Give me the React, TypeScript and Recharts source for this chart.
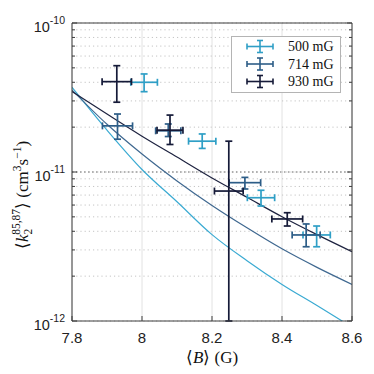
import React from "react";
import {
  ComposedChart,
  Line,
  Scatter,
  ErrorBar,
  XAxis,
  YAxis,
  CartesianGrid,
  ReferenceLine,
  Legend,
  Label,
} from "recharts";

// axis ticks
const xTicks = [7.8, 8.0, 8.2, 8.4, 8.6];
const yMajor = [1e-12, 1e-11, 1e-10];
const yMinor = [
  2e-12, 3e-12, 4e-12, 5e-12, 6e-12, 7e-12, 8e-12, 9e-12,
  2e-11, 3e-11, 4e-11, 5e-11, 6e-11, 7e-11, 8e-11, 9e-11,
];
const yTicks = [...yMajor, ...yMinor].sort((a, b) => a - b);

// model curves
const curveB = [7.8, 7.9, 8.0, 8.1, 8.2, 8.3, 8.4, 8.5, 8.6];
const curve500 = [3.7e-11, 1.91e-11, 1.04e-11, 6.31e-12, 3.8e-12, 2.54e-12, 1.76e-12, 1.27e-12, 9.1e-13];
const curve714 = [3.55e-11, 2.09e-11, 1.32e-11, 8.71e-12, 5.96e-12, 4.22e-12, 3.05e-12, 2.29e-12, 1.76e-12];
const curve930 = [3.47e-11, 2.45e-11, 1.74e-11, 1.26e-11, 9.12e-12, 6.76e-12, 5.01e-12, 3.8e-12, 2.92e-12];

// measurements: <B>, k, half-width in B, lower / upper end of k bar
const b500 = [8.006, 8.172, 8.34, 8.499];
const k500 = [4.0e-11, 1.61e-11, 6.72e-12, 3.78e-12];
const bErr500 = [0.038, 0.039, 0.039, 0.039];
const kLo500 = [3.46e-11, 1.44e-11, 5.91e-12, 3.15e-12];
const kHi500 = [4.55e-11, 1.8e-11, 7.54e-12, 4.34e-12];

const b714 = [7.93, 8.075, 8.294, 8.469];
const k714 = [2.04e-11, 1.89e-11, 8.48e-12, 3.78e-12];
const bErr714 = [0.043, 0.036, 0.045, 0.04];
const kLo714 = [1.66e-11, 1.73e-11, 7.69e-12, 3.15e-12];
const kHi714 = [2.45e-11, 2.1e-11, 9.2e-12, 4.48e-12];

const b930 = [7.928, 8.08, 8.248, 8.415];
const k930 = [4.04e-11, 1.91e-11, 7.45e-12, 4.84e-12];
const bErr930 = [0.042, 0.037, 0.041, 0.044];
const kLo930 = [2.94e-11, 1.53e-11, 1e-12, 4.34e-12];
const kHi930 = [5.17e-11, 2.41e-11, 1.61e-11, 5.33e-12];

const C500 = "#2f9fc6";
const C714 = "#2d5d87";
const C930 = "#151a38";
const AXIS = "#3c3c3c";
const SANS = "'Liberation Sans', Arial, sans-serif";
const SERIF = "'Liberation Serif', 'Times New Roman', serif";

const curve = (k: number[]) => curveB.map((x, i) => ({ x, y: k[i] }));
const points = (b: number[], k: number[], eb: number[], lo: number[], hi: number[]) =>
  b.map((x, i) => ({ x, y: k[i], ex: eb[i], ey: [k[i] - lo[i], hi[i] - k[i]] }));

const series = [
  { name: "500 mG", color: C500, data: points(b500, k500, bErr500, kLo500, kHi500) },
  { name: "714 mG", color: C714, data: points(b714, k714, bErr714, kLo714, kHi714) },
  { name: "930 mG", color: C930, data: points(b930, k930, bErr930, kLo930, kHi930) },
];

const isMajor = (v: number) => yMajor.some((m) => Math.abs(m - v) / m < 1e-6);

const LeftTick = (p: any) => {
  const v = p.payload.value;
  const major = isMajor(v);
  return (
    <g>
      <line x1={p.x} x2={p.x + (major ? 5 : 3)} y1={p.y} y2={p.y} stroke={AXIS} />
      {major && (
        <text x={p.x - 7} y={p.y + 9} textAnchor="end" fontFamily={SANS} fontSize={14.5} fill="#222">
          10
          <tspan dy={-8} fontSize={10.5}>{Math.round(Math.log10(v))}</tspan>
        </text>
      )}
    </g>
  );
};

const RightTick = (p: any) => {
  const major = isMajor(p.payload.value);
  return <line x1={p.x} x2={p.x - (major ? 5 : 3)} y1={p.y} y2={p.y} stroke={AXIS} />;
};

const BottomTick = (p: any) => (
  <g>
    <line x1={p.x} x2={p.x} y1={p.y} y2={p.y - 5} stroke={AXIS} />
    <text x={p.x} y={p.y + 22} textAnchor="middle" fontFamily={SANS} fontSize={15} fill="#222">
      {String(p.payload.value)}
    </text>
  </g>
);

const TopTick = (p: any) => <line x1={p.x} x2={p.x} y1={p.y} y2={p.y + 5} stroke={AXIS} />;

const LegendBox = () => (
  <svg width={110} height={57}>
    <rect x={0.5} y={0.5} width={109} height={56} fill="#fff" stroke="#b4b4b4" />
    {series.map((s, i) => {
      const cy = 10.5 + i * 17.5;
      return (
        <g key={s.name} stroke={s.color} strokeWidth={1.6}>
          <line x1={16} x2={42} y1={cy} y2={cy} />
          <line x1={16} x2={16} y1={cy - 3} y2={cy + 3} />
          <line x1={42} x2={42} y1={cy - 3} y2={cy + 3} />
          <line x1={29} x2={29} y1={cy - 6} y2={cy + 6} />
          <line x1={26} x2={32} y1={cy - 6} y2={cy - 6} />
          <line x1={26} x2={32} y1={cy + 6} y2={cy + 6} />
          <text x={57} y={cy + 4.5} stroke="none" fill="#111" fontFamily={SERIF} fontSize={14}>
            {s.name}
          </text>
        </g>
      );
    })}
  </svg>
);

export default function App() {
  return (
    <ComposedChart width={366} height={366} margin={{ top: 14, right: 21, bottom: 13, left: 0 }}>
      <CartesianGrid horizontal={false} stroke="#e2e2e2" />
      <CartesianGrid vertical={false} stroke="#c4c4c4" strokeDasharray="1.2 3" />
      <ReferenceLine y={1e-11} stroke="#9a9a9a" strokeWidth={1.3} strokeDasharray="1.5 2.5" />
      <XAxis
        dataKey="x"
        type="number"
        domain={[7.8, 8.6]}
        ticks={xTicks}
        allowDataOverflow
        height={40}
        stroke={AXIS}
        tickLine={false}
        tickSize={0}
        tickMargin={0}
        tick={BottomTick}
      >
        <Label
          content={(p: any) => (
            <text
              x={p.viewBox.x + p.viewBox.width / 2}
              y={p.viewBox.y + 42}
              textAnchor="middle"
              fontFamily={SERIF}
              fontSize={17}
              fill="#111"
            >
              ⟨<tspan fontStyle="italic">B</tspan>⟩ (G)
            </text>
          )}
        />
      </XAxis>
      <XAxis
        xAxisId="top"
        orientation="top"
        type="number"
        domain={[7.8, 8.6]}
        ticks={xTicks}
        allowDataOverflow
        height={1}
        stroke={AXIS}
        tickLine={false}
        tickSize={0}
        tickMargin={0}
        tick={TopTick}
      />
      <YAxis
        type="number"
        scale="log"
        domain={[1e-12, 1e-10]}
        ticks={yTicks}
        allowDataOverflow
        width={64}
        stroke={AXIS}
        tickLine={false}
        tickSize={0}
        tickMargin={0}
        tick={LeftTick}
        interval={0}
      >
        <Label
          content={() => {
            const cx = 20;
            const cy = 187;
            return (
              <text
                x={cx}
                y={cy}
                transform={`rotate(-90 ${cx} ${cy})`}
                textAnchor="middle"
                fontFamily={SERIF}
                fontSize={17}
                fill="#111"
              >
                ⟨<tspan fontStyle="italic">k</tspan>
                <tspan fontSize={11.5} dy={4}>2</tspan>
                <tspan fontSize={11.5} dx={-6} dy={-12}>85,87</tspan>
                <tspan dy={8}>⟩ (cm</tspan>
                <tspan fontSize={11.5} dy={-7}>3</tspan>
                <tspan dy={7}>s</tspan>
                <tspan fontSize={11.5} dy={-7}>−1</tspan>
                <tspan dy={7}>)</tspan>
              </text>
            );
          }}
        />
      </YAxis>
      <YAxis
        yAxisId="right"
        orientation="right"
        type="number"
        scale="log"
        domain={[1e-12, 1e-10]}
        ticks={yTicks}
        allowDataOverflow
        width={1}
        stroke={AXIS}
        tickLine={false}
        tickSize={0}
        tickMargin={0}
        tick={RightTick}
        interval={0}
      />
      <Line data={curve(curve500)} dataKey="y" type="monotone" dot={false} stroke="#3aaad2" strokeWidth={1.2} isAnimationActive={false} />
      <Line data={curve(curve714)} dataKey="y" type="monotone" dot={false} stroke="#3f6890" strokeWidth={1.2} isAnimationActive={false} />
      <Line data={curve(curve930)} dataKey="y" type="monotone" dot={false} stroke="#1e2340" strokeWidth={1.2} isAnimationActive={false} />
      {series.map((s) => (
        <Scatter key={s.name} name={s.name} data={s.data} dataKey="y" shape={() => <g />} isAnimationActive={false}>
          <ErrorBar dataKey="ex" direction="x" width={3.5} stroke={s.color} strokeWidth={1.7} isAnimationActive={false} />
          <ErrorBar dataKey="ey" direction="y" width={3.5} stroke={s.color} strokeWidth={1.7} isAnimationActive={false} />
        </Scatter>
      ))}
      <Legend
        layout="vertical"
        align="center"
        verticalAlign="middle"
        wrapperStyle={{ position: "absolute", left: 223, top: 28, width: 110, height: 57 }}
        content={() => <LegendBox />}
      />
    </ComposedChart>
  );
}
